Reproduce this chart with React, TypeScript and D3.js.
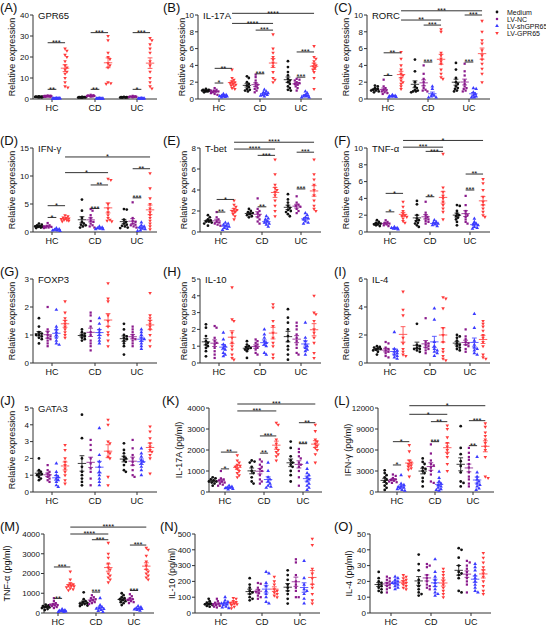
import React from 'react';
import * as d3 from 'd3';

const SERIES = ['Medium', 'LV-NC', 'LV-shGPR65', 'LV-GPR65'];
const COLORS = ['#111111', '#8a1a8c', '#3b3bff', '#ff3b3b'];
const GROUPS = ['HC', 'CD', 'UC'];

// [group][series][points]
const gpr65 = [
  [[1.0,0.9,1.1,0.8,1.2,1.0,0.9,1.1,1.0,0.8,1.0],[1.3,1.5,1.1,1.6,1.4,1.0,1.2,1.3,1.7,1.1,1.4,1.2],[0.3,0.2,0.4,0.3,0.3,0.2,0.4,0.3,0.2,0.3],[24,23,21,20,18,16,15,14,13,12,10,8,6,5.5]],
  [[0.8,0.9,0.7,0.8,1.0,0.7,0.9,0.8,0.6,0.9],[1.5,1.8,1.2,1.6,2.0,1.4,1.3,1.7,1.1],[0.3,0.2,0.3,0.4,0.2,0.3,0.3,0.2],[30,28,22,20,19,17,16,15,8,7.5,7.2]],
  [[0.8,0.7,0.9,0.8,1.0,0.7,0.8,0.9,0.6],[1.0,1.2,0.9,1.3,1.5,0.8,1.1,1.0,1.2],[0.3,0.2,0.3,0.3,0.2,0.4,0.3],[29,28,26,24,22,18,16,13,10,8,6,5]],
];
const gpr65Sig = [[0,1,0,2,4.6,'**'],[0,1,0,3,26.8,'***'],[1,1,1,2,4.6,'**'],[1,1,1,3,31.6,'***'],[2,1,2,2,4.6,'*'],[2,1,2,3,31.6,'***']];

const il17a = [
  [[1.2,1.1,1.0,1.0,0.9,1.0,1.1,0.9,1.0,0.8],[1.3,1.1,1.0,0.9,0.8,0.9,0.7,1.0,0.6,0.5],[0.6,0.5,0.4,0.4,0.3,0.35,0.3,0.25,0.2],[3.5,2.5,2.3,2.1,2.0,1.9,1.8,1.7,1.6,1.5,1.3,1.2]],
  [[2.7,2.5,2.0,1.8,1.6,1.4,1.2,1.1,1.0,0.9],[2.9,2.6,2.2,1.9,1.7,1.5,1.3,1.2,1.0,0.8],[1.1,0.9,0.8,0.7,0.6,0.5,0.5,0.4,0.3],[7.7,6.0,5.5,5.0,4.7,4.3,3.9,3.2,2.5,2.3,2.0]],
  [[4.5,3.8,3.2,2.8,2.4,2.2,2.0,1.8,1.5,1.3,1.1,1.0],[2.4,2.3,2.2,2.0,1.9,1.8,1.7,1.5,1.3,1.0],[0.9,0.7,0.5,0.4,0.3,0.3,0.2,0.2],[6.3,5.0,4.8,4.5,4.2,4.0,3.9,3.7,3.5,3.2,2.5,1.2]],
];
const il17aSig = [[0,1,0,2,1.9,'*'],[0,1,0,3,3.65,'**'],[1,1,1,2,3.0,'***'],[1,1,1,3,8.2,'***'],[2,1,2,2,2.6,'***'],[2,1,2,3,5.6,'***'],[0,3,1,3,9.0,'****'],[0,3,2,3,10.2,'****']];

const rorc = [
  [[1.6,1.5,1.3,1.2,1.1,1.0,1.0,0.9,0.8],[2.3,1.5,1.3,1.1,1.0,0.9,0.8,0.7,0.6],[0.5,0.4,0.35,0.3,0.3,0.25,0.2],[5.6,4.8,4.0,3.5,3.0,2.8,2.5,2.2,2.0,1.8,1.5,1.2]],
  [[4.7,3.3,2.0,1.5,1.3,1.1,1.0,0.9,0.9,0.8],[4.0,3.0,2.4,2.0,1.6,1.3,1.1,1.0,0.9],[1.5,1.2,0.6,0.4,0.3,0.2,0.2],[8.3,8.0,5.5,5.2,4.8,4.5,4.2,3.5,3.0,2.6,2.4]],
  [[4.3,3.5,2.5,2.0,1.8,1.5,1.3,1.2,1.0,0.9],[4.2,3.3,2.8,2.2,1.8,1.5,1.3,1.2,1.0,0.9],[1.3,1.2,0.8,0.6,0.4,0.3,0.2,0.2],[9.3,8.0,7.0,6.6,5.8,5.2,4.7,4.2,3.6,3.0,2.0]],
];
const rorcSig = [[0,1,0,2,2.8,'*'],[0,1,0,3,5.5,'**'],[1,1,1,2,4.4,'***'],[1,1,1,3,8.8,'***'],[2,1,2,2,4.4,'***'],[2,1,2,3,10.0,'***'],[0,3,1,3,9.4,'**'],[0,3,2,3,10.5,'***']];

const ifng = [
  [[1.5,1.3,1.2,1.0,1.0,0.9,0.9,0.8,0.7],[1.6,1.2,1.1,1.0,0.9,0.8,0.8,0.7],[0.7,0.5,0.4,0.3,0.3,0.2],[3.0,2.8,2.6,2.5,2.4,2.3,2.2,2.1,2.0,1.9]],
  [[5.8,3.8,2.5,1.8,1.5,1.3,1.2,1.0,0.8],[4.1,3.8,3.0,2.5,2.0,1.8,1.5,1.2,1.0,0.8],[1.0,0.8,0.7,0.6,0.5,0.5],[9.5,9.3,5.0,4.2,3.5,3.0,2.5,2.2,2.0,1.9]],
  [[4.1,4.0,2.2,1.8,1.5,1.3,1.1,1.0,0.8,0.7],[5.3,2.5,2.0,1.8,1.5,1.3,1.2,1.0,0.8],[1.7,1.2,1.0,0.8,0.6,0.5,0.3,0.2],[10.5,7.8,6.0,5.0,4.2,3.5,3.0,2.5,2.0,1.5,1.0,0.5]],
];
const ifngSig = [[0,1,0,2,2.6,'*'],[0,1,0,3,4.7,'*'],[1,1,1,2,4.2,'***'],[1,1,1,3,8.4,'**'],[2,1,2,2,6.1,'***'],[2,1,2,3,11.3,'**'],[0,3,1,3,10.6,'*'],[0,3,2,3,13.4,'*']];

const tbet = [
  [[1.6,1.4,1.2,1.1,1.0,1.0,0.9,0.8,0.6],[1.9,1.4,1.2,1.0,0.9,0.8,0.7,0.6],[0.9,0.8,0.7,0.6,0.5,0.4,0.3,0.2],[3.0,2.6,2.4,2.2,2.1,2.0,1.9,1.7,1.5,1.2]],
  [[2.2,2.0,1.9,1.8,1.7,1.6,1.5,1.4],[3.2,2.2,2.0,1.8,1.6,1.4,1.2,1.0,0.8],[1.5,1.3,1.2,1.0,0.9,0.8,0.7,0.5],[6.9,5.5,4.5,4.2,4.0,3.8,3.5,3.0,2.5,2.0,1.5]],
  [[3.6,3.1,2.8,2.5,2.3,2.1,2.0,1.9,1.7,1.5],[3.4,2.8,2.6,2.5,2.4,2.2,2.0,1.8],[1.8,1.6,1.4,1.3,1.2,1.0,0.9,0.8],[6.9,5.5,5.0,4.5,4.0,3.5,3.0,2.5,2.2,2.0]],
];
const tbetSig = [[0,1,0,2,1.9,'**'],[0,1,0,3,3.1,'*'],[1,1,1,2,2.4,'**'],[1,1,1,3,7.3,'***'],[2,1,2,2,4.1,'***'],[2,1,2,3,7.6,'***'],[0,3,1,3,7.9,'****'],[0,3,2,3,8.55,'****']];

const tnfa = [
  [[1.4,1.2,1.1,1.0,0.9,0.9,0.8,0.7],[1.4,1.2,1.1,1.0,0.9,0.8,0.7],[0.6,0.5,0.5,0.4,0.4,0.3],[3.6,3.0,2.5,2.2,2.0,1.9,1.8,1.6,1.3,1.1]],
  [[3.7,3.3,2.0,1.6,1.4,1.3,1.1,1.0,0.8,0.6],[3.6,2.3,2.0,1.8,1.6,1.5,1.3,1.2,1.0],[1.4,1.2,1.1,1.0,0.9,0.8,0.7],[9.3,5.3,4.8,4.3,4.0,3.6,3.2,2.8,2.4,1.5]],
  [[3.2,3.1,2.5,2.2,2.0,1.9,1.7,1.5,1.2,0.8],[4.3,3.2,2.5,2.2,2.0,1.8,1.5,1.2,1.0],[1.6,1.2,1.0,0.9,0.8,0.6,0.5,0.4],[6.3,5.8,5.0,4.2,3.6,3.2,2.8,2.4,2.0,1.8]],
];
const tnfaSig = [[0,1,0,2,2.4,'*'],[0,1,0,3,4.6,'*'],[1,1,1,2,4.2,'**'],[1,1,1,3,9.6,'***'],[2,1,2,2,5.0,'***'],[2,1,2,3,6.9,'**'],[0,3,1,3,10.1,'***'],[0,3,2,3,10.9,'*']];

const foxp3 = [
  [[1.6,1.3,1.1,1.05,1.0,1.0,0.95,0.9,0.85,0.7],[2.0,1.2,1.1,1.0,0.95,0.9,0.85,0.8,0.7,0.6],[1.9,1.3,1.2,1.1,1.0,0.9,0.8,0.7,0.65],[2.2,1.8,1.6,1.5,1.4,1.3,1.2,1.1,1.0,0.9]],
  [[1.2,1.1,1.05,1.0,0.95,0.9,0.85,0.8],[1.8,1.7,1.5,1.3,1.1,1.0,0.8,0.7,0.6,0.45],[1.6,1.4,1.2,1.1,1.0,0.9,0.8,0.7],[2.85,2.3,2.2,1.7,1.5,1.3,1.1,1.0,0.8,0.6]],
  [[1.4,1.2,1.0,0.95,0.9,0.85,0.8,0.7,0.6,0.3],[1.3,1.2,1.1,1.0,0.9,0.85,0.8,0.7,0.6],[1.2,1.1,1.0,0.9,0.85,0.8,0.7,0.6,0.5],[2.5,1.7,1.6,1.5,1.4,1.3,1.2,1.0,0.8,0.6]],
];

const il10 = [
  [[2.3,2.1,1.6,1.3,1.2,1.1,1.0,0.9,0.7,0.4],[2.2,2.1,1.5,1.3,1.2,1.1,0.9,0.7,0.5,0.3],[1.8,1.4,1.1,1.0,0.9,0.8,0.6,0.5,0.4],[4.5,2.6,2.5,1.8,1.5,1.2,1.0,0.8,0.5,0.3,0.2]],
  [[1.3,1.1,1.0,0.95,0.9,0.85,0.8,0.7,0.3],[1.4,1.3,1.2,1.1,1.0,0.9,0.8,0.6,0.5],[2.0,1.7,1.5,1.3,1.2,1.1,1.0,0.6,0.5],[3.5,3.3,2.5,2.2,1.8,1.5,1.2,1.0,0.5,0.3]],
  [[3.2,2.7,2.4,2.0,1.6,1.3,1.0,0.8,0.5,0.2],[2.4,2.2,2.0,1.7,1.5,1.3,1.1,0.9,0.6,0.5],[2.4,1.5,1.3,1.1,1.0,0.9,0.8,0.7,0.5],[4.0,3.0,2.9,2.5,2.0,1.8,1.5,1.2,0.6,0.3]],
];

const il4 = [
  [[1.2,1.15,1.1,1.05,1.0,0.95,0.9,0.8,0.6],[1.5,1.4,1.1,1.0,0.9,0.8,0.7,0.5,0.4],[2.2,1.0,0.9,0.8,0.7,0.6,0.5,0.4,0.3],[5.1,3.8,3.4,1.8,1.4,1.0,0.8,0.6,0.5]],
  [[2.8,1.3,1.2,1.1,1.0,1.0,0.9,0.8],[3.2,1.5,1.4,1.3,1.2,1.1,1.0,0.9,0.7],[3.9,3.1,1.5,1.2,1.0,0.9,0.8,0.7,0.5],[4.7,4.6,3.9,2.5,2.0,1.5,1.0,0.8,0.5,0.3,0.2]],
  [[2.0,1.9,1.8,1.6,1.4,1.3,1.2,1.1,1.0,0.9],[2.4,1.9,1.7,1.5,1.4,1.3,1.2,1.0,0.8],[3.5,2.5,1.6,1.3,1.1,1.0,0.9,0.7,0.6],[3.0,2.8,2.6,2.3,2.0,1.8,1.5,1.2,0.6,0.4,0.3]],
];

const gata3 = [
  [[2.0,1.3,1.2,1.1,1.05,1.0,0.9,0.8,0.7],[1.6,1.3,1.2,1.1,1.0,0.9,0.8,0.7,0.6],[1.7,1.2,1.0,0.9,0.8,0.7,0.6,0.4,0.3],[2.8,2.5,2.0,1.8,1.6,1.4,1.2,1.0,0.7,0.5]],
  [[4.6,3.2,2.0,1.5,1.2,1.0,0.8,0.6,0.4],[3.1,2.8,2.5,2.0,1.7,1.4,1.2,0.8,0.4],[3.8,2.2,1.8,1.5,1.2,1.0,0.8,0.6,0.4],[4.3,4.0,3.0,2.9,2.4,2.3,2.1,2.0,0.9,0.4]],
  [[2.9,2.5,2.3,2.1,2.0,1.9,1.8,1.6,1.3,1.2],[3.1,2.6,2.2,2.0,1.8,1.6,1.3,1.0,0.9],[2.6,2.3,2.1,1.9,1.8,1.7,1.5,1.3,1.0],[3.9,3.6,3.2,2.9,2.7,2.5,2.4,2.2,2.0,1.1]],
];

const il17aPg = [
  [[700,650,600,550,500,500,450,400,300],[1000,650,600,550,500,450,400,350,300],[300,250,220,200,180,150,120],[1750,1500,1400,1300,1250,1200,1100,1000,900,800,700]],
  [[1500,1450,1400,1200,1000,900,700,500,400],[1550,1450,1300,1200,1100,1000,800,600,500,400],[1400,1000,700,600,500,400,300,250,200],[3300,3200,2500,2300,2100,2000,1900,1800,1700,1500]],
  [[2400,2100,1700,1500,1400,1300,1200,1000,800,500],[2050,1900,1700,1600,1400,1300,1200,1000,700,300],[1400,1100,900,800,700,600,500,400,300,200,100],[3200,2900,2500,2400,2300,2200,2100,2000,1800,1400]],
];
const il17aPgSig = [[0,1,0,2,1100,'*'],[0,1,0,3,1900,'**'],[1,1,1,2,1850,'**'],[1,1,1,3,2670,'***'],[2,1,2,2,2300,'***'],[2,1,2,3,3300,'**'],[0,3,1,3,3860,'***'],[0,3,2,3,4190,'***']];

const ifngPg = [
  [[3100,2700,2400,2100,1800,1500,1200,900,600,300],[2500,2300,2000,1800,1700,1600,1500,1400,1300],[2400,1200,1000,800,700,600,500,400,300,200],[6700,5800,4500,4200,4000,3800,3600,3400,3200,2200]],
  [[4800,4300,4000,3500,3300,3000,2700,2000,1500,800],[6800,5500,4500,4000,3800,3500,3000,2500,1500,1300],[2900,2000,1500,1200,1000,800,600,400,300,200],[9500,9000,7800,7000,6500,6000,5500,5000,4000,3000]],
  [[9400,6300,5400,4400,3700,2800,1500,1300,800],[6300,5600,5000,4600,4000,3500,2800,2200,1800,1200,800],[5000,2800,2200,1800,1500,1200,1000,800,500,300],[9800,9300,8500,8000,7500,7000,6500,6000,5000,2200,2000]],
];
const ifngPgSig = [[0,1,0,2,3860,'*'],[0,1,0,3,7190,'*'],[1,1,1,2,7190,'***'],[1,1,1,3,10050,'**'],[2,1,2,2,6620,'**'],[2,1,2,3,10190,'***'],[0,3,1,3,11100,'*'],[0,3,2,3,12330,'*']];

const tnfaPg = [
  [[420,380,350,320,300,280,250,200,150],[750,600,500,450,420,400,380,350,300,250],[200,150,120,100,90,80,60,50],[2100,1700,1500,1450,1400,1380,1350,1300,1250,1200,1150]],
  [[1050,700,600,550,500,480,450,420,380,350],[900,800,750,700,650,600,550,500,450],[750,400,300,250,220,200,150,100,50],[3550,3000,2800,2500,2300,2200,2000,1900,1800,1700,1550]],
  [[1000,900,800,750,700,650,600,550,500,400],[950,850,750,700,650,600,550,500],[350,300,250,220,200,180,150,120],[3300,3200,2900,2600,2400,2200,2100,2000,1900,1800,1700]],
];
const tnfaPgSig = [[0,1,0,2,740,'**'],[0,1,0,3,2330,'***'],[1,1,1,2,1060,'***'],[1,1,1,3,3710,'***'],[2,1,2,2,1140,'***'],[2,1,2,3,3440,'***'],[0,3,1,3,4000,'****'],[0,3,2,3,4350,'****']];

const il10Pg = [
  [[90,75,65,60,55,55,50,45,40],[90,75,65,60,55,50,45,40,35],[100,80,70,65,60,55,50,40,35,30],[95,90,75,70,65,60,55,50,40,30]],
  [[220,180,160,140,130,120,100,90,80],[190,185,160,145,135,125,110,100,90],[260,250,190,170,140,120,100,70,60],[230,200,180,150,140,130,120,110,100]],
  [[270,240,210,180,160,140,120,90,60],[340,320,240,200,180,160,140,100,100],[330,220,180,150,140,120,90,60],[470,430,280,250,220,180,160,120,80,60]],
];

const il4Pg = [
  [[26,22,20,19,18,17,16,15,14,13],[23,22,21,20,19,18,17,16,15,13],[23,22,21,20,19,19,18,17,16,15],[24,23,22,21,20,19,18,17,16,15]],
  [[37,31,27,21,19,17,15,13,12,11],[31,30,29,24,22,20,18,17,16,15],[34,26,23,21,19,17,15,13,12,11],[28,26,24,22,20,18,16,14,12,10]],
  [[41,40,35,30,26,25,24,22,14,13],[33,32,30,28,26,24,22,20,18,13],[31,29,27,24,22,20,18,16,14,13],[38,35,32,29,27,25,23,20,17,14,12]],
];

const TICKS_A = [0, 10, 20, 30, 40];
const TICKS_10 = [0, 2, 4, 6, 8, 10];
const TICKS_15 = [0, 5, 10, 15];
const TICKS_8 = [0, 2, 4, 6, 8];
const TICKS_3 = [0, 1, 2, 3];
const TICKS_5 = [0, 1, 2, 3, 4, 5];
const TICKS_6 = [0, 2, 4, 6];
const TICKS_4000 = [0, 1000, 2000, 3000, 4000];
const TICKS_12000 = [0, 3000, 6000, 9000, 12000];
const TICKS_500 = [0, 100, 200, 300, 400, 500];
const TICKS_50 = [0, 10, 20, 30, 40, 50];

const ROW_TOP = [15, 148, 279, 408, 534];
const ROW_H = [84, 84, 84, 84, 79];
const REL = 'Relative expression';

const PANELS = [
  { letter: 'A', title: 'GPR65', ylabel: REL, data: gpr65, sig: gpr65Sig, ticks: TICKS_A, row: 0, x0: 33, gx: [52, 95, 137], x1: 157, ylabX: 15, letterX: 0 },
  { letter: 'B', title: 'IL-17A', ylabel: REL, data: il17a, sig: il17aSig, ticks: TICKS_10, row: 0, x0: 198, gx: [219, 260, 301], x1: 322, ylabX: 185, letterX: 163 },
  { letter: 'C', title: 'RORC', ylabel: REL, data: rorc, sig: rorcSig, ticks: TICKS_10, row: 0, x0: 367, gx: [388, 428, 469], x1: 490, ylabX: 349, letterX: 334 },
  { letter: 'D', title: 'IFN-γ', ylabel: REL, data: ifng, sig: ifngSig, ticks: TICKS_15, row: 1, x0: 33, gx: [52, 95, 137], x1: 157, ylabX: 15, letterX: 0 },
  { letter: 'E', title: 'T-bet', ylabel: REL, data: tbet, sig: tbetSig, ticks: TICKS_8, row: 1, x0: 200, gx: [221, 262, 301], x1: 321, ylabX: 187, letterX: 163 },
  { letter: 'F', title: 'TNF-α', ylabel: REL, data: tnfa, sig: tnfaSig, ticks: TICKS_10, row: 1, x0: 367, gx: [390, 430, 470], x1: 490, ylabX: 349, letterX: 334 },
  { letter: 'G', title: 'FOXP3', ylabel: REL, data: foxp3, sig: [], ticks: TICKS_3, row: 2, x0: 33, gx: [52, 95, 137], x1: 157, ylabX: 15, letterX: 0 },
  { letter: 'H', title: 'IL-10', ylabel: REL, data: il10, sig: [], ticks: TICKS_5, row: 2, x0: 200, gx: [219, 260, 301], x1: 321, ylabX: 187, letterX: 163 },
  { letter: 'I', title: 'IL-4', ylabel: REL, data: il4, sig: [], ticks: TICKS_6, row: 2, x0: 367, gx: [390, 430, 470], x1: 490, ylabX: 349, letterX: 334 },
  { letter: 'J', title: 'GATA3', ylabel: REL, data: gata3, sig: [], ticks: TICKS_5, row: 3, x0: 33, gx: [52, 95, 137], x1: 157, ylabX: 15, letterX: 0 },
  { letter: 'K', title: '', ylabel: 'IL-17A (pg/ml)', data: il17aPg, sig: il17aPgSig, ticks: TICKS_4000, row: 3, x0: 209, gx: [225, 264, 303], x1: 322, ylabX: 182, letterX: 162, sp: 8.2 },
  { letter: 'L', title: '', ylabel: 'IFN-γ (pg/ml)', data: ifngPg, sig: ifngPgSig, ticks: TICKS_12000, row: 3, x0: 378, gx: [397, 435, 473], x1: 494, ylabX: 351, letterX: 334, sp: 8.2 },
  { letter: 'M', title: '', ylabel: 'TNF-α (pg/ml)', data: tnfaPg, sig: tnfaPgSig, ticks: TICKS_4000, row: 4, x0: 44, gx: [58, 96, 134], x1: 154, ylabX: 10, letterX: 0, sp: 8.2 },
  { letter: 'N', title: '', ylabel: 'IL-10 (pg/ml)', data: il10Pg, sig: [], ticks: TICKS_500, row: 4, x0: 195, gx: [221, 262, 300], x1: 320, ylabX: 175, letterX: 160, sp: 8.2 },
  { letter: 'O', title: '', ylabel: 'IL-4 (pg/ml)', data: il4Pg, sig: [], ticks: TICKS_50, row: 4, x0: 370, gx: [391, 431, 471], x1: 491, ylabX: 352, letterX: 334, sp: 8.2 },
];

const FONT = "Arial, 'Liberation Sans', Helvetica, sans-serif";
const AX = '#333';

const SYMBOLS = [d3.symbolCircle, d3.symbolSquare, d3.symbolTriangle, d3.symbolTriangle];
const SYMBOL_ROT = [0, 0, 0, 180];
const SYM_SIZE = [6, 5, 6, 5.5];

function swarm(ys: number[], r: number, maxOff: number): number[] {
  const order = ys.map((_, i) => i).sort((a, b) => ys[a] - ys[b]);
  const placed: { x: number; y: number }[] = [];
  const xs = new Array(ys.length).fill(0);
  const cands = [0];
  for (let k = 1; k <= 10; k++) { cands.push(k * r * 0.75, -k * r * 0.75); }
  for (const i of order) {
    let best = 0;
    let bestScore = -Infinity;
    for (const c of cands) {
      if (Math.abs(c) > maxOff) continue;
      let minD = Infinity;
      for (const p of placed) {
        const d = Math.hypot(p.x - c, p.y - ys[i]);
        if (d < minD) minD = d;
      }
      if (minD >= 2 * r) { best = c; bestScore = Infinity; break; }
      if (minD > bestScore) { bestScore = minD; best = c; }
    }
    xs[i] = best;
    placed.push({ x: best, y: ys[i] });
  }
  return xs;
}

function PanelView({ p }: { p: any }) {
  const top = ROW_TOP[p.row];
  const bottom = top + ROW_H[p.row];
  const ymax = p.ticks[p.ticks.length - 1];
  const y = d3.scaleLinear().domain([0, ymax]).range([bottom, top]);
  const sp = p.sp ?? 8.7;
  const sx = (g: number, s: number) => p.gx[g] + (s - 1.5) * sp;

  const marks: any[] = [];
  p.data.forEach((grp: number[][], g: number) => {
    grp.forEach((vals: number[], s: number) => {
      const ys = vals.map((v) => y(v));
      const offs = swarm(ys, 1.25, 3.8);
      const cx = sx(g, s);
      const path = d3.symbol().type(SYMBOLS[s]).size(SYM_SIZE[s])();
      vals.forEach((v, i) => {
        marks.push(
          <path key={`p${g}-${s}-${i}`} d={path as string} fill={COLORS[s]}
            transform={`translate(${(cx + offs[i]).toFixed(2)},${ys[i].toFixed(2)}) rotate(${SYMBOL_ROT[s]})`} />
        );
      });
      const m = d3.mean(vals) as number;
      const sd = d3.deviation(vals) as number;
      const sem = sd / Math.sqrt(vals.length);
      const col = COLORS[s];
      marks.push(
        <g key={`m${g}-${s}`} stroke={col} strokeWidth={0.9} opacity={0.9}>
          <line x1={cx - 4.2} x2={cx + 4.2} y1={y(m)} y2={y(m)} />
          <line x1={cx} x2={cx} y1={y(m + sem)} y2={y(m - sem)} />
          <line x1={cx - 2.4} x2={cx + 2.4} y1={y(m + sem)} y2={y(m + sem)} />
          <line x1={cx - 2.4} x2={cx + 2.4} y1={y(m - sem)} y2={y(m - sem)} />
        </g>
      );
    });
  });

  return (
    <g fontFamily={FONT}>
      <text x={p.letterX} y={top - 3} fontSize={13} fill="#111">({p.letter})</text>
      {p.title ? <text x={p.x0 + 5} y={top + 3.5} fontSize={9.5} fill="#111">{p.title}</text> : null}
      <line x1={p.x0} x2={p.x0} y1={top} y2={bottom} stroke={AX} strokeWidth={1} />
      {p.ticks.map((t: number) => (
        <g key={`t${t}`}>
          <line x1={p.x0 - 3} x2={p.x0} y1={y(t)} y2={y(t)} stroke={AX} strokeWidth={1} />
          <text x={p.x0 - 4} y={y(t) + 2.8} fontSize={8} textAnchor="end" fill="#111">{t}</text>
        </g>
      ))}
      <line x1={p.x0} x2={p.x1} y1={bottom} y2={bottom} stroke={AX} strokeWidth={1} />
      {GROUPS.map((gname, g) => (
        <g key={gname}>
          <line x1={p.gx[g]} x2={p.gx[g]} y1={bottom} y2={bottom + 3} stroke={AX} strokeWidth={1} />
          <text x={p.gx[g]} y={bottom + 12} fontSize={9} textAnchor="middle" fill="#111">{gname}</text>
        </g>
      ))}
      <text transform={`translate(${p.ylabX},${(top + bottom) / 2}) rotate(-90)`} fontSize={9} textAnchor="middle" fill="#111">{p.ylabel}</text>
      {marks}
      {p.sig.map((sg: any[], i: number) => {
        const xa = sx(sg[0], sg[1]);
        const xb = sx(sg[2], sg[3]);
        const yy = y(sg[4]);
        return (
          <g key={`s${i}`}>
            <line x1={xa} x2={xb} y1={yy} y2={yy} stroke="#333" strokeWidth={1} />
            <text x={(xa + xb) / 2} y={yy + 2.2} fontSize={7.5} textAnchor="middle" fill="#111">{sg[5]}</text>
          </g>
        );
      })}
    </g>
  );
}

function Legend() {
  const ly = [12, 19, 26, 33];
  return (
    <g fontFamily={FONT}>
      {SERIES.map((name, s) => {
        const path = d3.symbol().type(SYMBOLS[s]).size(SYM_SIZE[s])();
        return (
          <g key={name}>
            <path d={path as string} fill={COLORS[s]} transform={`translate(497,${ly[s]}) rotate(${SYMBOL_ROT[s]})`} />
            <text x={507} y={ly[s] + 2.5} fontSize={7} fill="#111">{name}</text>
          </g>
        );
      })}
    </g>
  );
}

export default function App() {
  return (
    <svg width={546} height={631} style={{ position: 'absolute', left: 0, top: 0, background: '#fff' }}>
      <rect x={0} y={0} width={546} height={631} fill="#fff" />
      {PANELS.map((p) => <PanelView key={p.letter} p={p} />)}
      <Legend />
    </svg>
  );
}
